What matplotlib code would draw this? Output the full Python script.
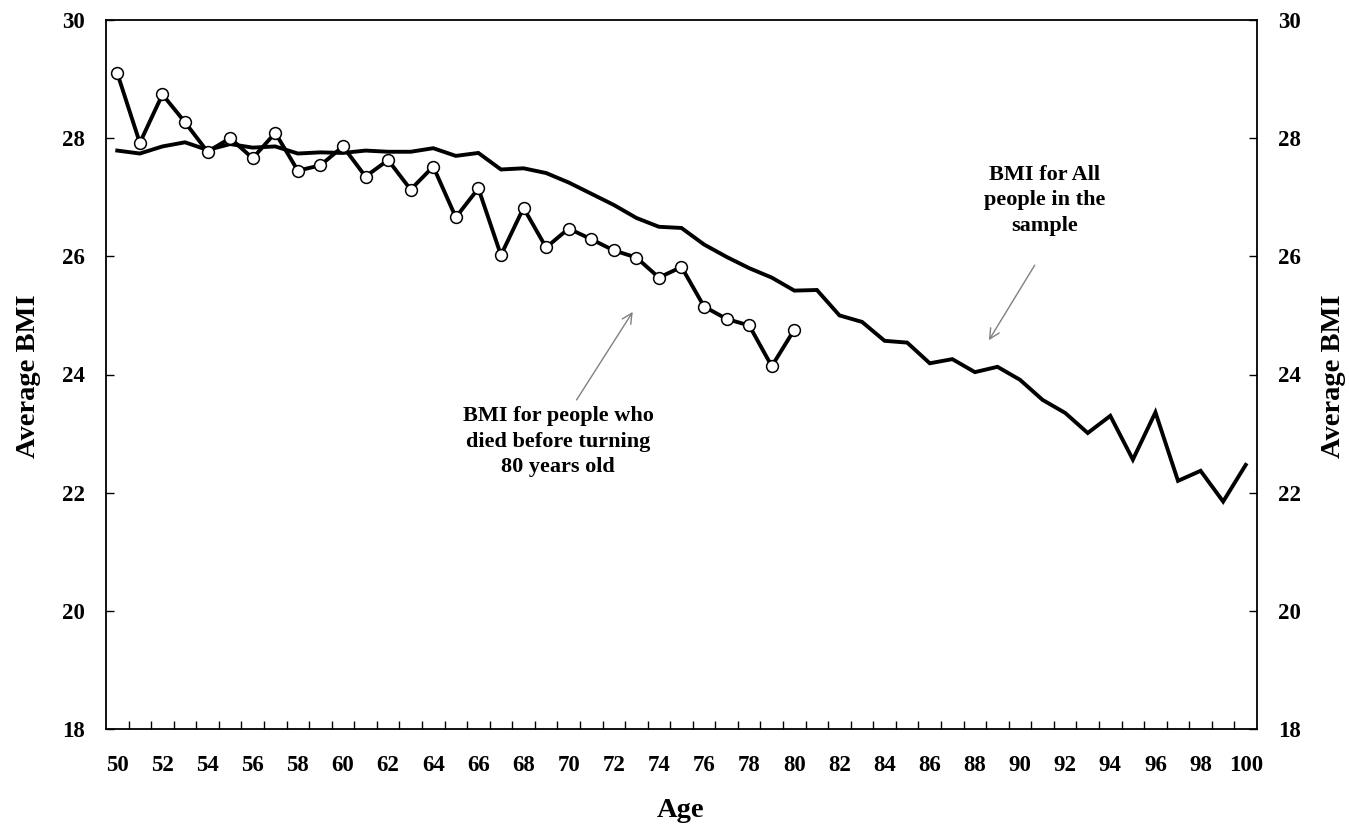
import matplotlib
matplotlib.use("Agg")
import matplotlib.pyplot as plt
import numpy as np

plt.rcParams['font.family'] = ['Liberation Serif', 'DejaVu Serif']
plt.rcParams['font.weight'] = 'bold'

# ages 50..100, one category per year
ages_all = list(range(50, 101))
bmi_all = [27.79, 27.74, 27.86, 27.93, 27.80, 27.90, 27.84, 27.86, 27.74, 27.76,
           27.75, 27.79, 27.77, 27.77, 27.83, 27.70, 27.75, 27.47, 27.49, 27.41,
           27.25, 27.06, 26.87, 26.65, 26.50, 26.48, 26.20, 25.99, 25.80, 25.64,
           25.42, 25.43, 25.00, 24.89, 24.57, 24.54, 24.19, 24.26, 24.04, 24.13,
           23.91, 23.57, 23.35, 23.01, 23.30, 22.56, 23.36, 22.20, 22.37, 21.85,
           22.47]

# people who died before 80
ages_died = list(range(50, 81))
bmi_died = [29.10, 27.92, 28.74, 28.27, 27.77, 28.00, 27.66, 28.09, 27.45, 27.54,
            27.86, 27.35, 27.63, 27.13, 27.52, 26.66, 27.15, 26.02, 26.82, 26.15,
            26.47, 26.29, 26.10, 25.98, 25.64, 25.82, 25.15, 24.94, 24.83, 24.14,
            24.76]

x_labels = list(range(50, 101, 2))
y_ticks = list(range(18, 31, 2))

fig = plt.figure(figsize=(13.49, 8.25), dpi=100, facecolor='white')
ax = fig.add_axes([106/1349, 1-729/825, 1151/1349, 709/825])

ax.plot(ages_all, bmi_all, color='black', lw=2.8, solid_joinstyle='miter', zorder=3)
ax.plot(ages_died, bmi_died, color='black', lw=2.8, marker='o', markersize=8.5,
        markerfacecolor='white', markeredgecolor='black', markeredgewidth=1.1,
        zorder=4)

ax.set_xlim(49.5, 100.5)
ax.set_ylim(18, 30)
ax.set_xticks(x_labels)
ax.set_xticks(np.arange(50.5, 100, 1.0), minor=True)
ax.tick_params(axis='x', which='major', length=0, pad=19, labelsize=16.5)
ax.tick_params(axis='x', which='minor', direction='in', length=6, width=1)
ax.set_yticks(y_ticks)
ax.tick_params(axis='y', which='both', direction='in', length=6, width=1,
               pad=15, labelsize=16.5, left=True, right=True,
               labelleft=True, labelright=True)
for lab in ax.get_xticklabels() + ax.get_yticklabels():
    lab.set_fontweight('bold')
for s in ax.spines.values():
    s.set_linewidth(1.3)

fig.text(29/1349, 1-376/825, 'Average BMI', rotation=90, ha='center', va='center',
         fontsize=20.5, fontweight='bold')
fig.text(1333/1349, 1-376/825, 'Average BMI', rotation=90, ha='center', va='center',
         fontsize=20.5, fontweight='bold')
fig.text(681/1349, 1-817/825, 'Age', ha='center', va='baseline',
         fontsize=20.5, fontweight='bold')

arrow = dict(arrowstyle='->', color='#808080', lw=1, mutation_scale=18,
             shrinkA=0, shrinkB=0)
ax.annotate('', xy=(72.84, 25.06), xytext=(70.35, 23.57), arrowprops=arrow)
ax.text(69.53, 23.47, 'BMI for people who\ndied before turning\n80 years old',
        ha='center', va='top', multialignment='center', fontsize=16,
        fontweight='bold', linespacing=1.38)

ax.annotate('', xy=(88.62, 24.58), xytext=(90.65, 25.85), arrowprops=arrow)
ax.text(91.1, 27.55, 'BMI for All\npeople in the\nsample',
        ha='center', va='top', multialignment='center', fontsize=16,
        fontweight='bold', linespacing=1.38)

fig.savefig('out.png', dpi=100, facecolor='white')
